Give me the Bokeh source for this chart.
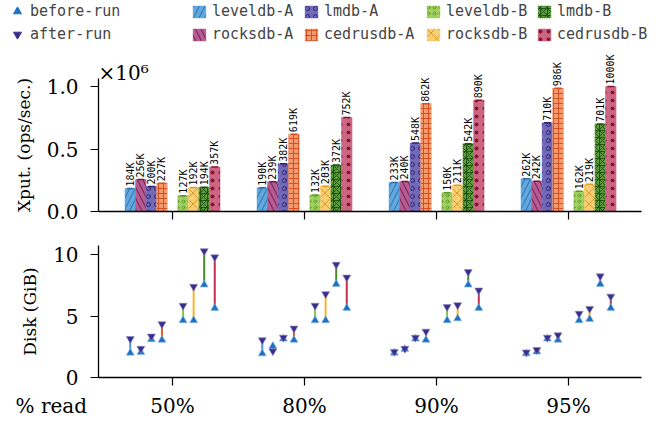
import numpy as np
from bokeh.plotting import figure
from bokeh.layouts import column
from bokeh.models import (ColumnDataSource, Range1d, FixedTicker, PrintfTickFormatter,
                          Legend, LegendItem, Label)
from bokeh.core.properties import value
from bokeh.embed import file_html
from bokeh.resources import INLINE

# ---------------- data ----------------
read_pct = ["50%", "80%", "90%", "95%"]
systems = ["leveldb-A", "rocksdb-A", "lmdb-A", "cedrusdb-A",
           "leveldb-B", "rocksdb-B", "lmdb-B", "cedrusdb-B"]

# throughput (thousands of ops/sec), one value per % read
xput_leveldb_A = [184, 190, 233, 262]
xput_rocksdb_A = [256, 239, 240, 242]
xput_lmdb_A = [200, 382, 548, 710]
xput_cedrusdb_A = [227, 619, 862, 986]
xput_leveldb_B = [127, 132, 150, 162]
xput_rocksdb_B = [192, 203, 211, 219]
xput_lmdb_B = [194, 372, 542, 701]
xput_cedrusdb_B = [357, 752, 890, 1000]

# disk usage (GiB) before and after the run
disk_before_leveldb_A = [2.0, 1.95, 2.0, 1.95]
disk_after_leveldb_A = [3.15, 3.05, 2.1, 2.05]
disk_before_rocksdb_A = [2.05, 2.55, 2.3, 2.1]
disk_after_rocksdb_A = [2.35, 2.15, 2.35, 2.25]
disk_before_lmdb_A = [3.1, 3.15, 3.15, 3.15]
disk_after_lmdb_A = [3.35, 3.25, 3.25, 3.25]
disk_before_cedrusdb_A = [3.05, 3.05, 3.05, 3.05]
disk_after_cedrusdb_A = [4.35, 4.0, 3.75, 3.45]
disk_before_leveldb_B = [4.65, 4.65, 4.65, 4.65]
disk_after_leveldb_B = [5.85, 5.85, 5.75, 5.2]
disk_before_rocksdb_B = [4.65, 4.65, 4.8, 4.75]
disk_after_rocksdb_B = [7.4, 6.8, 5.9, 5.6]
disk_before_lmdb_B = [7.55, 7.6, 7.55, 7.6]
disk_after_lmdb_B = [10.3, 9.2, 8.6, 8.25]
disk_before_cedrusdb_B = [5.65, 5.65, 5.65, 5.65]
disk_after_cedrusdb_B = [9.8, 8.15, 7.1, 6.6]

xput = dict(zip(systems, [xput_leveldb_A, xput_rocksdb_A, xput_lmdb_A, xput_cedrusdb_A,
                          xput_leveldb_B, xput_rocksdb_B, xput_lmdb_B, xput_cedrusdb_B]))
disk_before = dict(zip(systems, [disk_before_leveldb_A, disk_before_rocksdb_A, disk_before_lmdb_A,
                                 disk_before_cedrusdb_A, disk_before_leveldb_B, disk_before_rocksdb_B,
                                 disk_before_lmdb_B, disk_before_cedrusdb_B]))
disk_after = dict(zip(systems, [disk_after_leveldb_A, disk_after_rocksdb_A, disk_after_lmdb_A,
                                disk_after_cedrusdb_A, disk_after_leveldb_B, disk_after_rocksdb_B,
                                disk_after_lmdb_B, disk_after_cedrusdb_B]))

# ---------------- styles / layout ----------------
offsets = dict(zip(systems, [-0.32, -0.24, -0.16, -0.08, 0.08, 0.16, 0.24, 0.32]))
BAR_W = 0.08
style = {
    "leveldb-A":  dict(fill="#62A8DC", hatch="#2A6DB0", pattern="/", scale=11, line="#4A95D6"),
    "rocksdb-A":  dict(fill="#B65C93", hatch="#6E1A50", pattern="\\", scale=11, line="#A0407A"),
    "lmdb-A":     dict(fill="#7468B8", hatch="#29236E", pattern="o", scale=8, line="#5548A5"),
    "cedrusdb-A": dict(fill="#F29A70", hatch="#D4501E", pattern="+", scale=5, line="#E0582A"),
    "leveldb-B":  dict(fill="#A2CF62", hatch="#5E9A28", pattern="o", scale=6, line="#8CC04A"),
    "rocksdb-B":  dict(fill="#F8CE74", hatch="#DE9C22", pattern="x", scale=11, line="#F2B531"),
    "lmdb-B":     dict(fill="#5F9C3E", hatch="#1F5510", pattern="*", scale=7, line="#4A8A2C"),
    "cedrusdb-B": dict(fill="#CB6683", hatch="#8A1234", pattern=".", scale=8, line="#C23050"),
}
BEFORE_COLOR = "#1C72C2"
AFTER_COLOR = "#3A2E8C"
SERIF = "DejaVu Serif"
MONO = "DejaVu Sans Mono"

groups = np.arange(len(read_pct))
X_AX = (-0.56, 3.553)           # extent of the drawn x axes
X_VIEW = (-1.303, 3.742)        # whole canvas width
Y1_AX = (0, 1.064)
Y1_VIEW = (-0.152, 1.688)
Y2_AX = (0, 10.75)
Y2_VIEW = (-3.91, 11.97)

# ---------------- top panel: throughput ----------------
p1 = figure(frame_width=666, frame_height=230, x_range=Range1d(*X_VIEW), y_range=Range1d(*Y1_VIEW),
            output_backend="svg", toolbar_location=None, min_border=0)

bar_renderers = {}
for s in systems:
    st = style[s]
    vals = np.array(xput[s], dtype=float)
    src = ColumnDataSource(dict(x=groups + offsets[s], top=vals / 1000.0,
                                label=[f"{v}K" for v in xput[s]]))
    r = p1.vbar(x="x", top="top", width=BAR_W, bottom=0, source=src,
                fill_color=st["fill"], line_color=st["fill"], line_width=0.5,
                hatch_pattern=st["pattern"], hatch_color=st["hatch"],
                hatch_scale=st["scale"], hatch_weight=1.0)
    bar_renderers[s] = r
    p1.scatter(x="x", y="top", source=src, marker="dash", size=7,
               line_color=st["hatch"], line_width=1.5)
    p1.text(x="x", y="top", text="label", source=src, angle=np.pi / 2,
            text_align="left", text_baseline="middle", y_offset=-2,
            text_font=value(MONO), text_font_size=value("10px"), text_color="black")

# hidden marker renderers for the before/after legend
all_x = np.concatenate([groups + offsets[s] for s in systems])
all_before = np.concatenate([disk_before[s] for s in systems])
all_after = np.concatenate([disk_after[s] for s in systems])
leg_src = ColumnDataSource(dict(x=all_x, before=all_before, after=all_after))
lb = p1.scatter(x="x", y="before", source=leg_src, marker="triangle",
                fill_color=BEFORE_COLOR, line_color=BEFORE_COLOR, visible=False)
la = p1.scatter(x="x", y="after", source=leg_src, marker="inverted_triangle",
                fill_color=AFTER_COLOR, line_color=AFTER_COLOR, visible=False)

p1.yaxis.ticker = FixedTicker(ticks=[0, 0.5, 1.0])
p1.yaxis.formatter = PrintfTickFormatter(format="%.1f")
p1.yaxis.axis_label = "Xput. (ops/sec.)"
p1.yaxis.bounds = Y1_AX
p1.xaxis.ticker = FixedTicker(ticks=list(groups))
p1.xaxis.major_label_overrides = {int(i): "" for i in groups}
p1.xaxis.major_label_text_font_size = "0px"

p1.add_layout(Label(x=X_AX[0], y=1.112, text="×10⁶", text_baseline="alphabetic",
                    text_font=SERIF, text_font_size="20px", text_color="black"))


def legend_box(items, loc, gw, gh, lh, spacing, standoff):
    return Legend(items=items, location=loc, orientation="vertical",
                  padding=0, margin=0, spacing=spacing,
                  border_line_alpha=0, background_fill_alpha=0,
                  glyph_width=gw, glyph_height=gh, label_height=lh,
                  label_standoff=standoff,
                  label_text_font=MONO, label_text_font_size="15px")


p1.add_layout(legend_box([LegendItem(label="before-run", renderers=[lb]),
                          LegendItem(label="after-run", renderers=[la])],
                         (7, 186), 20, 20, 20, 3, 3))
cols = [("leveldb-A", "rocksdb-A", 191), ("lmdb-A", "cedrusdb-A", 303),
        ("leveldb-B", "rocksdb-B", 425), ("lmdb-B", "cedrusdb-B", 536)]
for a, b, xo in cols:
    p1.add_layout(legend_box([LegendItem(label=a, renderers=[bar_renderers[a]]),
                              LegendItem(label=b, renderers=[bar_renderers[b]])],
                             (xo, 186), 16, 15, 20, 3, 5))

# ---------------- bottom panel: disk ----------------
p2 = figure(frame_width=666, frame_height=195, x_range=Range1d(*X_VIEW), y_range=Range1d(*Y2_VIEW),
            output_backend="svg", toolbar_location=None, min_border=0)

for s in systems:
    src = ColumnDataSource(dict(x=groups + offsets[s], b=disk_before[s], a=disk_after[s]))
    p2.segment(x0="x", y0="b", x1="x", y1="a", source=src,
               line_color=style[s]["line"], line_width=2)
p2.scatter(x="x", y="before", source=leg_src, marker="triangle", size=8,
           fill_color=BEFORE_COLOR, line_color="#8DBBE8", line_width=0.6)
p2.scatter(x="x", y="after", source=leg_src, marker="inverted_triangle", size=8,
           fill_color=AFTER_COLOR, line_color="#8C86C2", line_width=0.6)

p2.yaxis.ticker = FixedTicker(ticks=[0, 5, 10])
p2.yaxis.axis_label = "Disk (GiB)"
p2.yaxis.bounds = Y2_AX
p2.xaxis.ticker = FixedTicker(ticks=list(groups))
p2.xaxis.major_label_overrides = {int(i): t for i, t in zip(groups, read_pct)}
p2.xaxis.major_label_standoff = 9
p2.xaxis.major_label_text_font_size = "20px"
p2.add_layout(Label(x=-1.189, y=-1.38, text="% read", text_baseline="top",
                    text_font=SERIF, text_font_size="20px", text_color="black"))

for p in (p1, p2):
    p.outline_line_color = None
    p.xgrid.visible = False
    p.ygrid.visible = False
    p.background_fill_color = "white"
    p.border_fill_color = "white"
    p.xaxis.fixed_location = 0
    p.xaxis.bounds = X_AX
    p.yaxis.fixed_location = X_AX[0]
    for ax in p.axis:
        ax.minor_tick_line_color = None
        ax.major_tick_in = 0
        ax.major_tick_out = 8
        ax.axis_line_width = 1.3
        ax.major_tick_line_width = 1.2
        ax.axis_line_color = "black"
        ax.major_tick_line_color = "black"
        ax.major_label_text_font = SERIF
        ax.major_label_text_color = "black"
        ax.axis_label_text_font = SERIF
        ax.axis_label_text_font_size = "17px"
        ax.axis_label_text_font_style = "normal"
        ax.axis_label_text_color = "black"
    p.yaxis.major_label_text_font_size = "20px"
    p.yaxis.major_label_standoff = 12
    p.yaxis.axis_label_standoff = 10

layout = column(p1, p2, spacing=0)
open("out.html", "w").write(file_html(layout, INLINE))
